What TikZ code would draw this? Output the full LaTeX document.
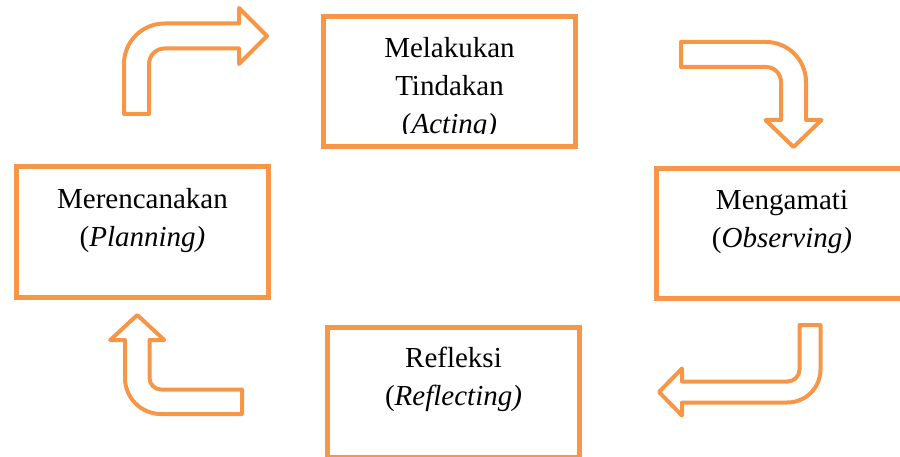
\documentclass[tikz,border=0pt]{standalone}
\usepackage{fontspec}
\setmainfont{Liberation Serif}
\usetikzlibrary{positioning}
\definecolor{cycleorange}{HTML}{F79646}
\tikzset{
  stagebox/.style={draw=cycleorange, line width=5pt, minimum width=252pt,
    minimum height=130pt, outer sep=0pt, inner sep=0pt},
  stagetext/.style={align=center, inner sep=0pt,
    font=\fontsize{29}{38}\selectfont},
  bentarrow/.style={draw=cycleorange, line width=4pt, line join=round}
}
\begin{document}
\begin{tikzpicture}[x=1pt,y=-1pt]
\useasboundingbox (0,0) rectangle (900,457);
\clip (0,0) rectangle (900,457);
% the four stages of the cycle
\node [stagebox] (act) at (449.5,82) {};
\node [stagebox] (plan) at (142.5,232) {};
\node [stagebox] (obs) at (782,233.5) {};
\node [stagebox] (refl) at (453.5,392) {};
% texts at the top of each box
\begin{scope}
  \clip (act.north west) rectangle (575,133.5);
  \node [stagetext, below=20pt of act.north] (acttext)
    {Melakukan\\Tindakan\\(\textit{Acting)}};
\end{scope}
\node [stagetext, below=21pt of plan.north] (plantext)
  {Merencanakan\\(\textit{Planning)}};
\node [stagetext, below=22pt of obs.north] (obstext)
  {Mengamati\\(\textit{Observing)}};
\node [stagetext, below=20pt of refl.north] (refltext)
  {Refleksi\\(\textit{Reflecting)}};
% bent block arrows between the stages
\draw [bentarrow] (124,114) -- (124,64)
  arc[start angle=180, end angle=270, radius=40.5]
  -- (239,23.5) -- (239,8) -- (267,36) -- (239,64) -- (239,48.5)
  -- (164.5,48.5) arc[start angle=270, end angle=180, radius=15.5]
  -- (149,114) -- cycle;
\draw [bentarrow] (681,42) -- (766,42)
  arc[start angle=270, end angle=360, radius=40]
  -- (806,120) -- (821.5,120) -- (793.5,147) -- (765.5,120) -- (781,120)
  -- (781,82) arc[start angle=0, end angle=-90, radius=15]
  -- (681,67) -- cycle;
\draw [bentarrow] (799.5,325) -- (820.5,325) -- (820.5,369.5)
  arc[start angle=0, end angle=90, radius=33]
  -- (682,402.5) -- (682,415.5) -- (659,392) -- (682,368.5) -- (682,381.5)
  -- (787.5,381.5) arc[start angle=90, end angle=0, radius=12]
  -- cycle;
\draw [bentarrow] (242,389.5) -- (242,414) -- (161,414)
  arc[start angle=90, end angle=180, radius=36]
  -- (125,340) -- (110.25,340) -- (137.25,315) -- (164.25,340) -- (149.5,340)
  -- (149.5,378) arc[start angle=180, end angle=90, radius=11.5]
  -- cycle;
\end{tikzpicture}
\end{document}
